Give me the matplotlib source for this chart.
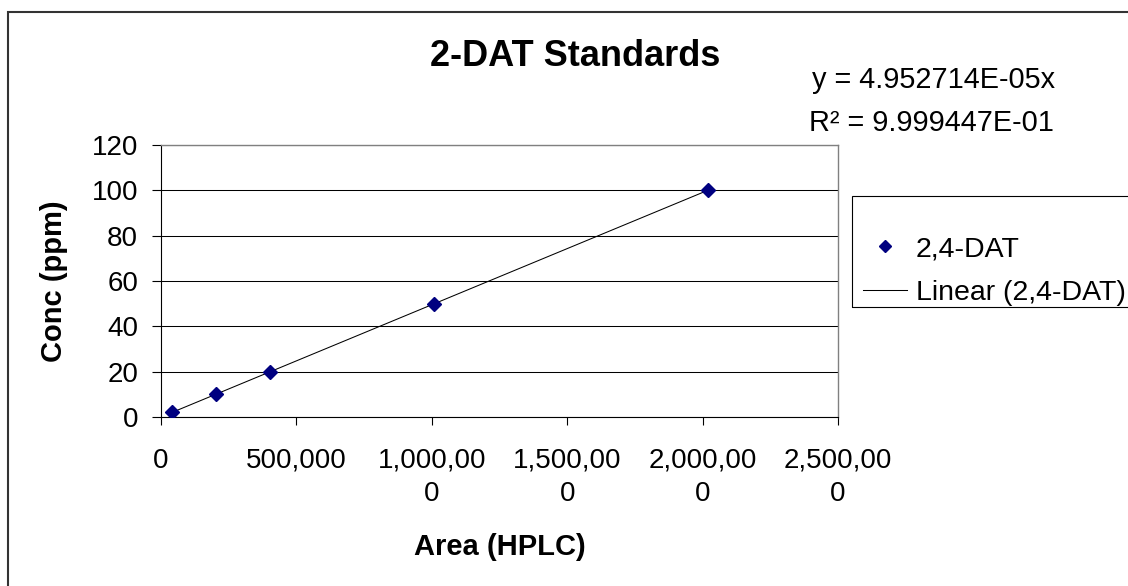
import matplotlib
matplotlib.use("Agg")
import matplotlib.pyplot as plt
from matplotlib.patches import Rectangle
import numpy as np

plt.rcParams["font.family"] = ["Liberation Sans", "DejaVu Sans"]

# data
area = [40500, 201500, 404000, 1009000, 2019000]
conc = [2, 10, 20, 50, 100]
slope = 4.952714e-05
r2_text = "9.999447E-01"

x_ticks = [0, 500000, 1000000, 1500000, 2000000, 2500000]
x_labels = ["0", "500,000", "1,000,00\n0", "1,500,00\n0", "2,000,00\n0", "2,500,00\n0"]
y_ticks = [0, 20, 40, 60, 80, 100, 120]

W, H = 1128, 586
fig = plt.figure(figsize=(W / 100, H / 100), dpi=100)

# outer chart border (runs off the right/bottom edges)
fig.patches.append(Rectangle((8 / W, -0.05), 1.2, 1 - 12 / H + 0.05,
                             transform=fig.transFigure, fill=False,
                             edgecolor="#333333", linewidth=1.5))

ax = fig.add_axes([161 / W, 1 - 417 / H, 677 / W, 272 / H])

ax.set_xlim(0, 2500000)
ax.set_ylim(0, 120)
ax.set_yticks(y_ticks)
ax.set_xticks(x_ticks)
ax.set_xticklabels(x_labels, linespacing=1.38)
ax.tick_params(axis="both", labelsize=20, direction="out", width=0.8, color="black")
ax.tick_params(axis="x", length=6, pad=16)
ax.tick_params(axis="y", length=6.5, pad=10)

ax.grid(axis="y", color="black", linewidth=0.75)
ax.set_axisbelow(True)
for side in ["top", "right"]:
    ax.spines[side].set_color("#808080")
    ax.spines[side].set_linewidth(1.0)
for side in ["left", "bottom"]:
    ax.spines[side].set_color("black")
    ax.spines[side].set_linewidth(0.8)

xs = np.array([min(area), max(area)])
ln, = ax.plot(xs, slope * xs, color="black", linewidth=0.75, zorder=2)
pts, = ax.plot(area, conc, linestyle="none", marker="D", markersize=6.8,
               color="#000080", zorder=3)

ax.set_xlabel("Area (HPLC)", fontsize=21, fontweight="bold")
ax.set_ylabel("Conc (ppm)", fontsize=21, fontweight="bold")
ax.xaxis.set_label_coords(0.5, -0.425)
ax.yaxis.set_label_coords(-0.137, 0.5)

fig.text(575 / W, 1 - 57 / H, "2-DAT Standards", fontsize=26, fontweight="bold",
         ha="center", va="center")

fig.text(812 / W, 1 - 88 / H, "y = 4.952714E-05x", fontsize=20.8, ha="left", va="baseline")
fig.text(809 / W, 1 - 131 / H, "R\u00b2 = " + r2_text, fontsize=20.8, ha="left", va="baseline")

# legend box, cut off at the right edge like the original
fig.patches.append(Rectangle((852 / W, 1 - 307 / H), 0.3, 111 / H,
                             transform=fig.transFigure, fill=False,
                             edgecolor="black", linewidth=0.8))
pts_leg = plt.Line2D([], [], linestyle="none", marker="D", markersize=6.3, color="#000080")
fig.legend([pts_leg, ln], ["2,4-DAT", "Linear (2,4-DAT)"], loc="center left",
           bbox_to_anchor=(863 / W, 1 - 271 / H), frameon=False, fontsize=20.5,
           borderpad=0, borderaxespad=0, handlelength=1.55, handletextpad=0.3,
           labelspacing=0.6, numpoints=1)

fig.savefig("out.png", dpi=100)
